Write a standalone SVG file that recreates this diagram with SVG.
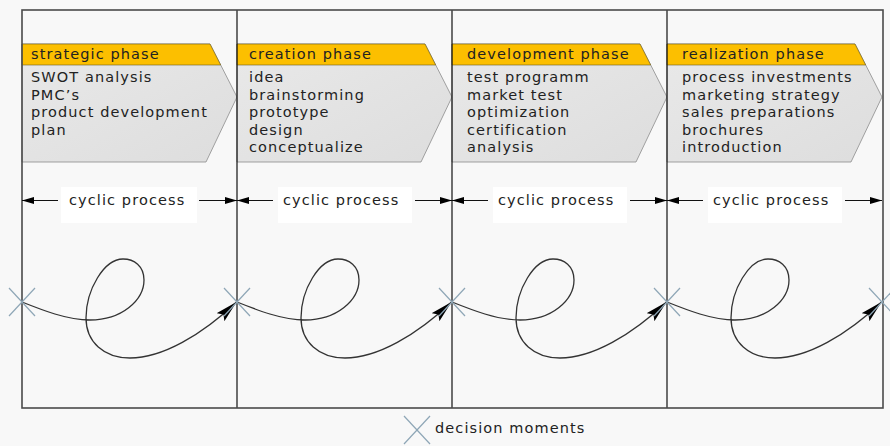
<svg xmlns="http://www.w3.org/2000/svg" width="890" height="446" viewBox="0 0 890 446">
<style>
text{font-family:"DejaVu Sans","Liberation Sans",sans-serif;font-size:14.5px;letter-spacing:1.1px;fill:#222}
.chev{fill:url(#gg);stroke:#8c8c8c;stroke-width:0.8}
.head{fill:#fcbf00;stroke:#6a5a20;stroke-width:0.6}
.div{stroke:#111;stroke-width:1.2}
.frame{fill:none;stroke:#4a4a4a;stroke-width:1.6}
.cx{stroke:#8ea6b6;stroke-width:1.2}
.cyc{stroke:#111;stroke-width:1.1;fill:none}
.loop{stroke:#333;stroke-width:1.3;fill:none}
.lbl{fill:#ffffff}
</style>
<defs>
<linearGradient id="gg" x1="0" y1="0" x2="1" y2="1">
<stop offset="0" stop-color="#e9e9e9"/>
<stop offset="1" stop-color="#dddddd"/>
</linearGradient>
<marker id="ah" markerUnits="userSpaceOnUse" markerWidth="13" markerHeight="8" refX="12" refY="3.5" orient="auto-start-reverse" viewBox="0 0 13 8">
<path d="M0,0 L12,3.5 L0,7 z" fill="#000"/>
</marker>
<marker id="dart" markerUnits="userSpaceOnUse" markerWidth="24" markerHeight="12" refX="22" refY="6" orient="auto" viewBox="0 0 24 12">
<path d="M0,0.5 L22,6 L0,11.5 L4,6 z" fill="#000"/>
</marker>
<g id="cross"><line x1="-13" y1="-14" x2="13" y2="14"/><line x1="-13" y1="14" x2="13" y2="-14"/></g>
</defs>
<rect x="0" y="0" width="890" height="446" fill="#f8f8f8"/>
<g id="phase-strategic">
<polygon class="chev" points="22,44 210,44 237,97 206,162 22,162"/>
<polygon class="head" points="22,44 210,44 220.7,65 22,65"/>
<text x="31" y="59">strategic phase</text>
<text x="31" y="82">SWOT analysis</text>
<text x="31" y="99.5">PMC’s</text>
<text x="31" y="117">product development</text>
<text x="31" y="134.5">plan</text>
</g>
<g id="phase-creation">
<polygon class="chev" points="237,44 425,44 452,97 421,162 237,162"/>
<polygon class="head" points="237,44 425,44 435.7,65 237,65"/>
<text x="249" y="59">creation phase</text>
<text x="249" y="82">idea</text>
<text x="249" y="99.5">brainstorming</text>
<text x="249" y="117">prototype</text>
<text x="249" y="134.5">design</text>
<text x="249" y="152">conceptualize</text>
</g>
<g id="phase-development">
<polygon class="chev" points="452,44 640,44 667,97 636,162 452,162"/>
<polygon class="head" points="452,44 640,44 650.7,65 452,65"/>
<text x="467" y="59">development phase</text>
<text x="467" y="82">test programm</text>
<text x="467" y="99.5">market test</text>
<text x="467" y="117">optimization</text>
<text x="467" y="134.5">certification</text>
<text x="467" y="152">analysis</text>
</g>
<g id="phase-realization">
<polygon class="chev" points="667,44 855,44 882,97 851,162 667,162"/>
<polygon class="head" points="667,44 855,44 865.7,65 667,65"/>
<text x="682" y="59">realization phase</text>
<text x="682" y="82">process investments</text>
<text x="682" y="99.5">marketing strategy</text>
<text x="682" y="117">sales preparations</text>
<text x="682" y="134.5">brochures</text>
<text x="682" y="152">introduction</text>
</g>
<g id="dividers">
<line class="div" x1="237" y1="10" x2="237" y2="408"/>
<line class="div" x1="452" y1="10" x2="452" y2="408"/>
<line class="div" x1="667" y1="10" x2="667" y2="408"/>
</g>
<rect id="frame" class="frame" x="22" y="10" width="861" height="398"/>
<g id="cyclic-labels">
<rect class="lbl" x="61" y="187" width="136" height="36"/>
<text x="69" y="205">cyclic process</text>
<rect class="lbl" x="278" y="187" width="134" height="36"/>
<text x="283" y="205">cyclic process</text>
<rect class="lbl" x="493" y="187" width="134" height="36"/>
<text x="498" y="205">cyclic process</text>
<rect class="lbl" x="708" y="187" width="134" height="36"/>
<text x="713" y="205">cyclic process</text>
</g>
<g id="connectors">
<line class="cyc" x1="22" y1="200.5" x2="58" y2="200.5" marker-start="url(#ah)"/>
<line class="cyc" x1="199" y1="200.5" x2="237" y2="200.5" marker-end="url(#ah)"/>
<line class="cyc" x1="237" y1="200.5" x2="273" y2="200.5" marker-start="url(#ah)"/>
<line class="cyc" x1="415" y1="200.5" x2="452" y2="200.5" marker-end="url(#ah)"/>
<line class="cyc" x1="452" y1="200.5" x2="488" y2="200.5" marker-start="url(#ah)"/>
<line class="cyc" x1="630" y1="200.5" x2="667" y2="200.5" marker-end="url(#ah)"/>
<line class="cyc" x1="667" y1="200.5" x2="703" y2="200.5" marker-start="url(#ah)"/>
<line class="cyc" x1="845" y1="200.5" x2="882" y2="200.5" marker-end="url(#ah)"/>
<g id="loop1" transform="translate(22,0)"><path class="loop" marker-end="url(#dart)" d="M0,302 C20,310 45,320 68,320 C100,320 122,300 122,280 C122,266 112,259 101,259 C82,259 64,290 64,318 C64,342 82,358 108,358 C140,358 180,335 214.5,302"/></g>
<g id="loop2" transform="translate(237,0)"><path class="loop" marker-end="url(#dart)" d="M0,302 C20,310 45,320 68,320 C100,320 122,300 122,280 C122,266 112,259 101,259 C82,259 64,290 64,318 C64,342 82,358 108,358 C140,358 180,335 214.5,302"/></g>
<g id="loop3" transform="translate(452,0)"><path class="loop" marker-end="url(#dart)" d="M0,302 C20,310 45,320 68,320 C100,320 122,300 122,280 C122,266 112,259 101,259 C82,259 64,290 64,318 C64,342 82,358 108,358 C140,358 180,335 214.5,302"/></g>
<g id="loop4" transform="translate(667,0)"><path class="loop" marker-end="url(#dart)" d="M0,302 C20,310 45,320 68,320 C100,320 122,300 122,280 C122,266 112,259 101,259 C82,259 64,290 64,318 C64,342 82,358 108,358 C140,358 180,335 214.5,302"/></g>
</g>
<g id="decision-points" class="cx">
<use href="#cross" x="22" y="302"/>
<use href="#cross" x="237" y="302"/>
<use href="#cross" x="452" y="302"/>
<use href="#cross" x="667" y="302"/>
<use href="#cross" x="882" y="302"/>
</g>
<g id="legend">
<g class="cx"><use href="#cross" x="417" y="430"/></g>
<text x="435" y="433">decision moments</text>
</g>
</svg>
